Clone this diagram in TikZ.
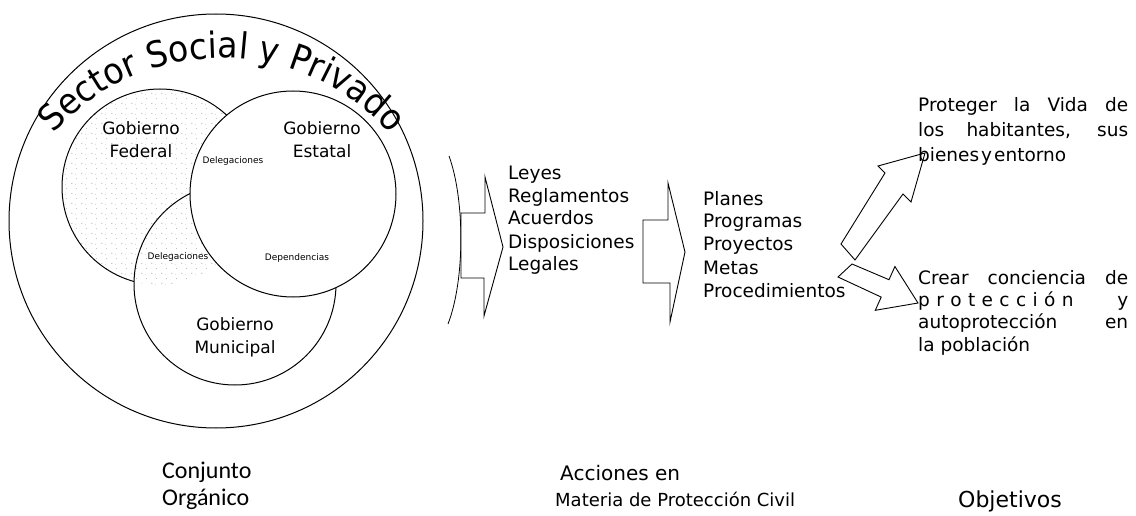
\documentclass[tikz,border=0pt]{standalone}
\usepackage{fontspec}
\setmainfont{DejaVu Sans}
\newfontfamily\arcfont[FakeStretch=0.92]{DejaVu Sans}
\newfontfamily\calfont{Carlito}
\usetikzlibrary{decorations.text,patterns}
\pgfdeclarepatternformonly{sparsedots}{\pgfpointorigin}{\pgfpoint{10pt}{10pt}}{\pgfpoint{10pt}{10pt}}{%
  \pgfpathcircle{\pgfpoint{2pt}{3pt}}{0.55pt}%
  \pgfpathcircle{\pgfpoint{7pt}{8pt}}{0.45pt}%
  \pgfpathcircle{\pgfpoint{6pt}{2pt}}{0.35pt}%
  \pgfusepath{fill}}
\newcommand{\lsp}{\hspace{6.4pt}}
\begin{document}
\begin{tikzpicture}[x=1pt,y=-1pt,
  outline/.style={line width=1pt, draw=black},
  bigarrow/.style={draw=black, line width=0.9pt, fill=white, line join=miter},
  glabel/.style={inner sep=0, align=center, font=\fontsize{17}{23}\selectfont},
  tinylabel/.style={inner sep=0, font=\fontsize{9}{10}\selectfont},
  listitem/.style={anchor=base west, inner sep=0, font=\fontsize{18.5}{22}\selectfont},
  dotfill/.style={pattern=sparsedots, pattern color=black!45}
]
\useasboundingbox (0,0) rectangle (1136,516);
\fill[white] (0,0) rectangle (1136,516);

% ---- circles
\coordinate (cO) at (216,221);
\coordinate (cF) at (160,187);
\coordinate (cE) at (293,194);
\coordinate (cM) at (235,284);
\draw[outline] (cO) circle[radius=207];
\fill[dotfill] (cF) circle[radius=98];
\draw[outline] (cF) circle[radius=98];
\filldraw[outline, fill=white] (cM) circle[radius=101];
\begin{scope}
  \clip (cF) circle[radius=98];
  \fill[dotfill] (cM) circle[radius=101];
\end{scope}
\filldraw[outline, fill=white] (cE) circle[radius=103];
\draw[line width=0.8pt] (449,156) .. controls (465,200) and (465,280) .. (448,324);

% ---- curved title
\path[decorate, decoration={text along path,
   text={|\arcfont\fontsize{36}{36}\selectfont|Sector Social y Privado},
   text align=center}]
   (55.5,132.1) arc[start angle=222, end angle=318, radius=224];

% ---- circle labels
\node[glabel] (gfed) at (141,140) {Gobierno\\Federal};
\node[glabel] (gest) at (322,140) {Gobierno\\Estatal};
\node[glabel] (gmun) at (235,337) {Gobierno\\Municipal};
\node[tinylabel] (del1) at (233,161) {Delegaciones};
\node[tinylabel] (del2) at (178,257) {Delegaciones};
\node[tinylabel] (dep) at (297,258) {Dependencias};

% ---- block arrows
\draw[bigarrow] (461,213) -- (485,213) -- (485,177) -- (503,247) -- (484,316) -- (484,278) -- (461,278) -- cycle;
\draw[bigarrow] (643,220) -- (668,220) -- (668,183) -- (685,252) -- (670,322) -- (670,283) -- (643,283) -- cycle;
\draw[bigarrow] (841,244) -- (885,173) -- (878,166) -- (925,153) -- (911,202) -- (903,194) -- (855,260) -- cycle;
\draw[bigarrow] (852,264) -- (889,279.7) -- (894.9,266.5) -- (918,303) -- (875.3,310.3) -- (881.2,297.1) -- (838,277) -- cycle;

% ---- lists
\node[listitem] (l1) at (508,180) {Leyes};
\node[listitem] (l2) at (508,203) {Reglamentos};
\node[listitem] (l3) at (508,225) {Acuerdos};
\node[listitem] (l4) at (508,248) {Disposiciones};
\node[listitem] (l5) at (508,270) {Legales};

\node[listitem] (p1) at (703,205) {Planes};
\node[listitem] (p2) at (703,228) {Programas};
\node[listitem] (p3) at (703,251) {Proyectos};
\node[listitem] (p4) at (703,274) {Metas};
\node[listitem] (p5) at (703,297) {Procedimientos};

\node[listitem] (o1) at (918,112) {\makebox[210pt][s]{Proteger la Vida de}};
\node[listitem] (o2) at (918,137) {\makebox[210pt][s]{los habitantes, sus}};
\node[listitem] (o3) at (918,162) {bienes\hspace{2pt}y\hspace{2pt}entorno};

\node[listitem] (c1) at (918,284) {\makebox[210pt][s]{Crear conciencia de}};
\node[listitem] (c2) at (918,306) {\makebox[210pt][l]{p\lsp r\lsp o\lsp t\lsp e\lsp c\lsp c\lsp i\lsp ó\lsp n\hfill y}};
\node[listitem] (c3) at (918,328) {\makebox[210pt][s]{autoprotección en}};
\node[listitem] (c4) at (918,351) {la población};

% ---- captions
\node[anchor=base west, inner sep=0, font=\calfont\fontsize{24}{28}\selectfont] (k1) at (162,478) {Conjunto};
\node[anchor=base west, inner sep=0, font=\calfont\fontsize{24}{28}\selectfont] (k2) at (162,505) {Orgánico};
\node[anchor=base west, inner sep=0, font=\fontsize{20}{24}\selectfont] (a1) at (560,480) {Acciones en};
\node[anchor=base west, inner sep=0, font=\fontsize{18}{22}\selectfont] (a2) at (555,506) {Materia de Protección Civil};
\node[anchor=base west, inner sep=0, font=\fontsize{22}{26}\selectfont] (obj) at (958,507) {Objetivos};
\end{tikzpicture}
\end{document}
